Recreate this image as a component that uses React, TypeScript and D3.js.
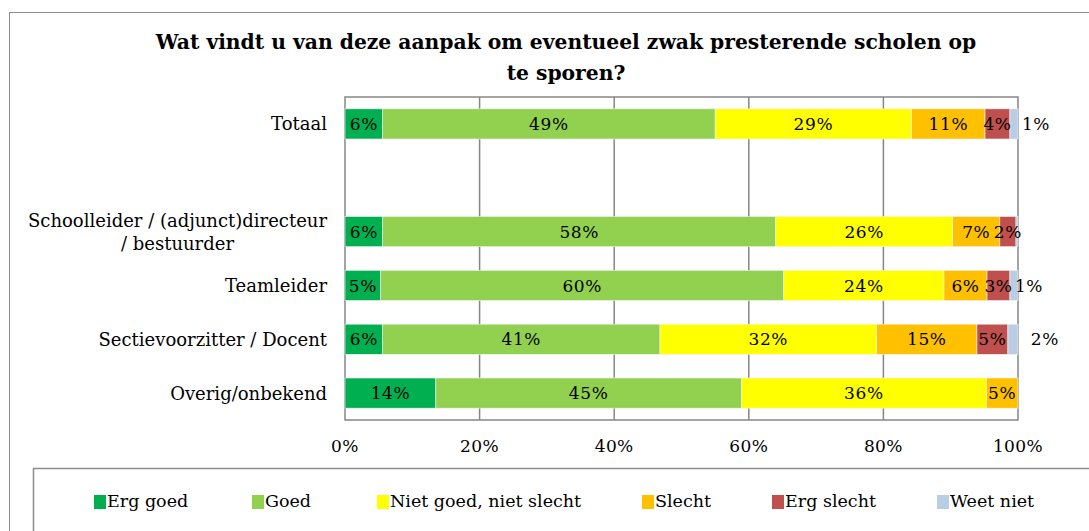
import React, { useEffect, useRef } from "react";
import * as d3 from "d3";

const categories = ["Totaal", "", "Schoolleider / (adjunct)directeur\n/ bestuurder", "Teamleider", "Sectievoorzitter / Docent", "Overig/onbekend"];
const seriesNames = ["Erg goed", "Goed", "Niet goed, niet slecht", "Slecht", "Erg slecht", "Weet niet"];
const seriesColors = ["#00B050", "#92D050", "#FFFF00", "#FFC000", "#C0504D", "#B9CDE5"];
// values per category (percent), order follows seriesNames
const ergGoed = [5.6, 0, 5.6, 5.3, 5.6, 13.5];
const goed = [49.4, 0, 58.4, 59.9, 41.2, 45.4];
const nietGoedNietSlecht = [29.2, 0, 26.3, 23.8, 32.2, 36.4];
const slecht = [10.9, 0, 7.0, 6.4, 14.9, 4.7];
const ergSlecht = [3.7, 0, 2.4, 3.4, 4.6, 0];
const weetNiet = [1.2, 0, 0.3, 1.2, 1.5, 0];
const tickValues = [0, 20, 40, 60, 80, 100];
const title = ["Wat vindt  u van deze aanpak om eventueel zwak presterende scholen op", "te sporen?"];
// horizontal offset for "Weet niet" labels placed outside the bar
const weetNietLabelShift = [22, 0, 0, 15, 32, 0];

const FONT = "'DejaVu Serif', serif";

export default function App() {
  const ref = useRef<SVGSVGElement>(null);
  useEffect(() => {
    const svg = d3.select(ref.current);
    svg.selectAll("*").remove();
    const W = 1089, H = 531;
    const left = 345, right = 1018, top = 97, bottom = 420;

    // outer chart border
    svg.append("rect").attr("x", 9.5).attr("y", 12.5).attr("width", W + 20).attr("height", H + 20)
      .attr("fill", "#fff").attr("stroke", "#8c8c8c").attr("stroke-width", 1);

    const x = d3.scaleLinear().domain([0, 100]).range([left, right]);
    const y = d3.scaleBand<string>().domain(categories.map((c, i) => String(i))).range([top, bottom])
      .paddingInner(0.44).paddingOuter(0.22);

    // title
    title.forEach((t, i) => {
      svg.append("text").attr("x", 566).attr("y", 49 + i * 31).attr("text-anchor", "middle")
        .attr("font-family", FONT).attr("font-weight", "bold").attr("font-size", 20.3).attr("fill", "#000").text(t);
    });

    // gridlines
    svg.append("g").selectAll("line").data(tickValues.slice(1, -1)).join("line")
      .attr("x1", d => x(d)).attr("x2", d => x(d)).attr("y1", top).attr("y2", bottom)
      .attr("stroke", "#868686").attr("stroke-width", 1.5);
    // plot border
    svg.append("rect").attr("x", left).attr("y", top).attr("width", right - left).attr("height", bottom - top)
      .attr("fill", "none").attr("stroke", "#868686").attr("stroke-width", 1.5);

    const allSeries = [ergGoed, goed, nietGoedNietSlecht, slecht, ergSlecht, weetNiet];
    const rows = categories.map((c, i) => {
      const o: any = { key: String(i) };
      seriesNames.forEach((s, j) => (o[s] = allSeries[j][i]));
      return o;
    });
    const stack = d3.stack<any>().keys(seriesNames)(rows);

    stack.forEach((layer, j) => {
      const g = svg.append("g");
      layer.forEach((d, i) => {
        const v = d[1] - d[0];
        if (v <= 0) return;
        g.append("rect").attr("x", x(d[0])).attr("y", y(String(i))!).attr("width", x(d[1]) - x(d[0]))
          .attr("height", y.bandwidth()).attr("fill", seriesColors[j]).attr("stroke", "#f2f2f2").attr("stroke-width", 0.6);
      });
    });
    stack.forEach((layer, j) => {
      layer.forEach((d, i) => {
        const v = d[1] - d[0];
        const r = Math.round(v);
        if (r <= 0) return;
        let cx = (x(d[0]) + x(d[1])) / 2;
        if (j === 5) cx += weetNietLabelShift[i];
        svg.append("text").attr("x", cx).attr("y", y(String(i))! + y.bandwidth() / 2).attr("dy", "0.36em")
          .attr("text-anchor", "middle").attr("font-family", FONT).attr("font-size", 17).attr("letter-spacing", 0.6)
          .attr("fill", "#000").text(r + "%");
      });
    });

    // category labels
    categories.forEach((c, i) => {
      if (!c) return;
      const lines = c.split("\n");
      const cy = y(String(i))! + y.bandwidth() / 2;
      const t = svg.append("text").attr("font-family", FONT).attr("font-size", 18).attr("fill", "#000")
        .attr("text-anchor", "middle");
      const spans = lines.map((l, k) => t.append("tspan").attr("x", 0)
        .attr("y", cy + (k - (lines.length - 1) / 2) * 23).attr("dy", "0.36em").text(l));
      const widths = spans.map(s => (s.node() as SVGTextContentElement).getComputedTextLength());
      const maxW = Math.max(...widths);
      spans.forEach(s => s.attr("x", 327 - maxW / 2));
    });

    // x tick labels
    svg.append("g").selectAll("text").data(tickValues).join("text")
      .attr("x", d => x(d)).attr("y", 446).attr("dy", "0.36em").attr("text-anchor", "middle")
      .attr("font-family", FONT).attr("font-size", 17).attr("letter-spacing", 0.4).attr("fill", "#000").text(d => d + "%");

    // legend box
    svg.append("rect").attr("x", 33.5).attr("y", 468.5).attr("width", W).attr("height", 100)
      .attr("fill", "#fff").attr("stroke", "#8c8c8c").attr("stroke-width", 1.5);
    const legendX = [94, 252, 377, 642, 772, 937];
    seriesNames.forEach((s, j) => {
      svg.append("rect").attr("x", legendX[j]).attr("y", 495).attr("width", 12).attr("height", 14)
        .attr("fill", seriesColors[j]);
      svg.append("text").attr("x", legendX[j] + 13).attr("y", 501).attr("dy", "0.36em")
        .attr("font-family", FONT).attr("font-size", 17.5).attr("fill", "#000").text(s);
    });
  }, []);
  return (
    <svg ref={ref} width={1089} height={531} style={{ position: "absolute", left: 0, top: 0, background: "#fff" }} />
  );
}
